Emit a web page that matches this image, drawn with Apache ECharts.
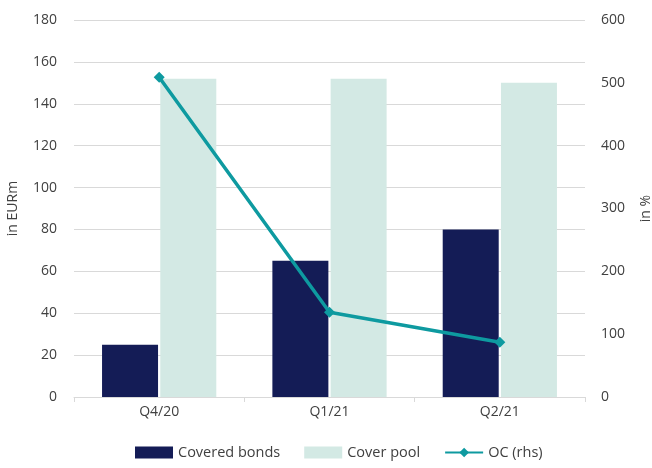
<!DOCTYPE html>
<html>
<head>
<meta charset="utf-8">
<script src="https://cdn.jsdelivr.net/npm/echarts@6/dist/echarts.min.js"></script>
<style>html,body{margin:0;padding:0;background:#fff}#c{width:652px;height:468px}</style>
</head>
<body>
<div id="c"></div>
<script>
var categories = ['Q4/20', 'Q1/21', 'Q2/21'];
var coveredBonds = [25, 65, 80];
var coverPool = [152, 152, 150];
var ocRhs = [509, 135, 87];

var chart = echarts.init(document.getElementById('c'), null, {renderer: 'canvas'});
var font = '"Open Sans", "Noto Sans", sans-serif';
chart.setOption({
  animation: false,
  textStyle: {fontFamily: font},
  grid: {left: 74, right: 67, top: 20, bottom: 71, containLabel: false, outerBoundsMode: 'none'},
  legend: {
    bottom: 3, left: 130, itemWidth: 38, itemHeight: 12, itemGap: 24,
    textStyle: {fontSize: 14.5, color: '#404040', fontFamily: font},
    data: [
      {name: 'Covered bonds', icon: 'rect'},
      {name: 'Cover pool', icon: 'rect'},
      {name: 'OC (rhs)'}
    ]
  },
  xAxis: {
    type: 'category', data: categories,
    axisLine: {lineStyle: {color: '#d9d9d9'}},
    axisTick: {show: true, lineStyle: {color: '#d9d9d9'}},
    axisLabel: {fontSize: 14, color: '#404040', margin: 8}
  },
  yAxis: [
    {type: 'value', min: 0, max: 180, interval: 20, name: 'in EURm', nameLocation: 'middle', nameGap: 54, nameRotate: 90,
     nameTextStyle: {fontSize: 14, color: '#404040'},
     axisLabel: {fontSize: 14, color: '#404040', margin: 17},
     splitLine: {lineStyle: {color: '#d9d9d9'}}},
    {type: 'value', min: 0, max: 600, interval: 100, name: 'in %', nameLocation: 'middle', nameGap: 54, nameRotate: 90,
     nameTextStyle: {fontSize: 14, color: '#404040'},
     axisLabel: {fontSize: 14, color: '#404040', margin: 16},
     splitLine: {show: false}}
  ],
  series: [
    {name: 'Covered bonds', type: 'bar', data: coveredBonds, barWidth: 56, barGap: '4%', itemStyle: {color: '#141c56'}},
    {name: 'Cover pool', type: 'bar', data: coverPool, barWidth: 56, barGap: '4%', itemStyle: {color: '#d3e9e4'}},
    {name: 'OC (rhs)', type: 'line', yAxisIndex: 1, data: ocRhs, symbol: 'diamond', symbolSize: 11,
     lineStyle: {color: '#0e9aa0', width: 3.5}, itemStyle: {color: '#0e9aa0'}}
  ]
});
</script>
</body>
</html>
